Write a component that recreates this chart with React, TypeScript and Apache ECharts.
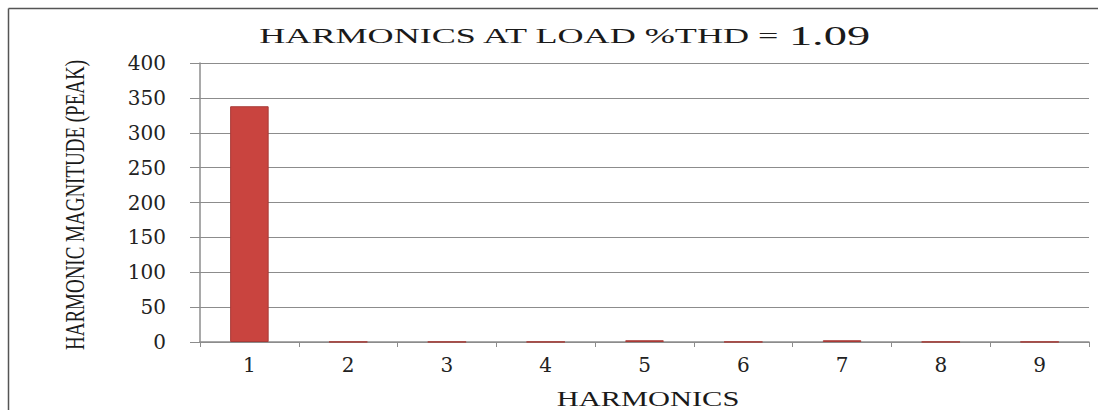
import React, { useEffect, useRef } from "react";
import * as echarts from "echarts";

const harmonics = ["1", "2", "3", "4", "5", "6", "7", "8", "9"];
const magnitudes = [338, 0.2, 0.2, 0.2, 2.5, 0.2, 2.5, 0.2, 0.2];
const yMin = 0;
const yMax = 400;
const yStep = 50;
const titleText = "HARMONICS AT LOAD %THD = ";
const thdValue = "1.09";
const xTitle = "HARMONICS";
const yTitle = "HARMONIC MAGNITUDE (PEAK)";

export default function App() {
  const ref = useRef<HTMLDivElement>(null);
  useEffect(() => {
    if (!ref.current) return;
    const chart = echarts.init(ref.current, null, { renderer: "svg" });
    const serif = "'Liberation Serif', 'Times New Roman', serif";
    chart.setOption({
      animation: false,
      backgroundColor: "#ffffff",
      grid: { left: 200, right: 9, top: 63, bottom: 68, containLabel: false },
      xAxis: {
        type: "category",
        data: harmonics,
        axisLine: { show: true, lineStyle: { color: "#8c8c8c", width: 1.5 } },
        axisTick: { show: true, alignWithLabel: false, length: 5, lineStyle: { color: "#8c8c8c" } },
        axisLabel: { fontFamily: "'DejaVu Serif', serif", fontSize: 20, color: "#222", margin: 13 },
        splitLine: { show: false },
      },
      yAxis: {
        type: "value",
        min: yMin,
        max: yMax,
        interval: yStep,
        axisLine: { show: true, lineStyle: { color: "#8c8c8c", width: 1.5 } },
        axisTick: { show: true, inside: false, length: 10, lineStyle: { color: "#8c8c8c" } },
        axisLabel: { fontFamily: "'DejaVu Serif', serif", fontSize: 20, color: "#222", margin: 34 },
        splitLine: { show: true, lineStyle: { color: "#8c8c8c", width: 1.2 } },
      },
      series: [
        {
          type: "bar",
          data: magnitudes,
          barCategoryGap: "61%",
          itemStyle: { color: "#c9443f", borderColor: "#a83b37", borderWidth: 1 },
        },
      ],
      graphic: [
        {
          type: "line",
          shape: { x1: 8.5, y1: 8.5, x2: 1098, y2: 8.5 },
          style: { stroke: "#555", lineWidth: 1.5 },
          silent: true,
        },
        {
          type: "line",
          shape: { x1: 8.5, y1: 8.5, x2: 8.5, y2: 410 },
          style: { stroke: "#555", lineWidth: 1.5 },
          silent: true,
        },
        {
          type: "text",
          x: 564,
          y: 36,
          scaleX: 1.72,
          style: {
            text: "{a|" + titleText + "}{b|" + thdValue + "}",
            align: "center",
            verticalAlign: "middle",
            rich: {
              a: { fontFamily: serif, fontSize: 21, fill: "#1a1a1a" },
              b: { fontFamily: serif, fontSize: 27, fill: "#1a1a1a" },
            },
          },
        },
        {
          type: "text",
          x: 648,
          y: 399,
          scaleX: 1.45,
          style: {
            text: xTitle,
            font: "21px " + serif,
            fill: "#1a1a1a",
            align: "center",
            verticalAlign: "middle",
          },
        },
        {
          type: "text",
          x: 75,
          y: 205,
          rotation: Math.PI / 2,
          scaleX: 0.95,
          scaleY: 1.4,
          style: {
            text: yTitle,
            font: "20px " + serif,
            fill: "#1a1a1a",
            align: "center",
            verticalAlign: "middle",
          },
        },
      ],
    });
    return () => chart.dispose();
  }, []);
  return (
    <div
      style={{ position: "fixed", left: 0, top: 0, width: 1098, height: 410, overflow: "hidden", background: "#fff", zIndex: 10 }}
    >
      <div ref={ref} style={{ width: 1098, height: 410 }} />
    </div>
  );
}
